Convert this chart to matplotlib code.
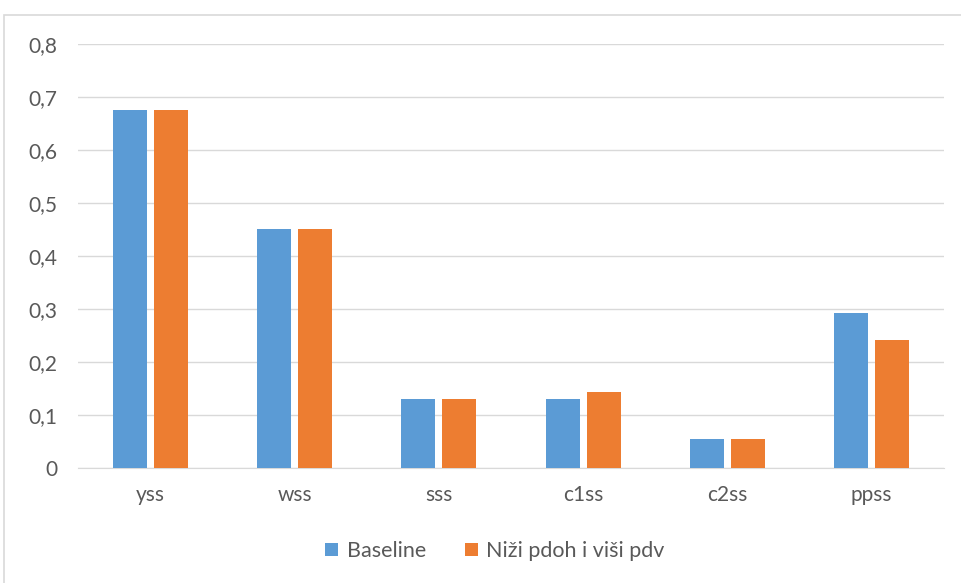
import numpy as np
import matplotlib.pyplot as plt
from matplotlib.patches import Rectangle

plt.rcParams['font.family'] = ['Lato', 'DejaVu Sans']

categories = ['yss', 'wss', 'sss', 'c1ss', 'c2ss', 'ppss']
baseline = [0.675, 0.45, 0.13, 0.13, 0.055, 0.292]
nizi_pdoh = [0.675, 0.45, 0.13, 0.144, 0.055, 0.241]
series_names = ['Baseline', 'Niži pdoh i viši pdv']
colors = ['#5b9bd5', '#ed7d31']

fig = plt.figure(figsize=(9.61, 5.83), dpi=100)
ax = fig.add_axes([0.0816, 0.197, 0.9003, 0.728])

# chart frame
fig.patches.append(Rectangle((4 / 961, -0.01), 1.0, 1 - 15 / 583 + 0.01,
                             transform=fig.transFigure, fill=False,
                             edgecolor='#d9d9d9', linewidth=1.2))

x = np.arange(len(categories))
w = 0.236
ax.bar(x - 0.142, baseline, w, color=colors[0], label=series_names[0], zorder=3)
ax.bar(x + 0.142, nizi_pdoh, w, color=colors[1], label=series_names[1], zorder=3)

ax.set_xlim(-0.5, len(categories) - 0.5)
ax.set_ylim(0, 0.8)
yt = np.arange(0, 0.81, 0.1)
ax.set_yticks(yt)
ax.set_yticklabels(['0'] + [f'{v:.1f}'.replace('.', ',') for v in yt[1:]])
ax.set_xticks(x)
ax.set_xticklabels(categories)
ax.grid(axis='y', color='#d9d9d9', linewidth=1, zorder=0)
for s in ['top', 'right', 'left']:
    ax.spines[s].set_visible(False)
ax.spines['bottom'].set_color('#d9d9d9')
ax.tick_params(axis='both', length=0, colors='#595959', labelsize=15)
ax.tick_params(axis='y', pad=15)
ax.tick_params(axis='x', pad=12)

fig.legend(loc='center', bbox_to_anchor=(0.515, 0.055), ncol=2, frameon=False,
           fontsize=15.5, labelcolor='#595959', handlelength=0.6, handleheight=0.6,
           handletextpad=0.4, columnspacing=1.8)

fig.savefig('out.png', dpi=100)
